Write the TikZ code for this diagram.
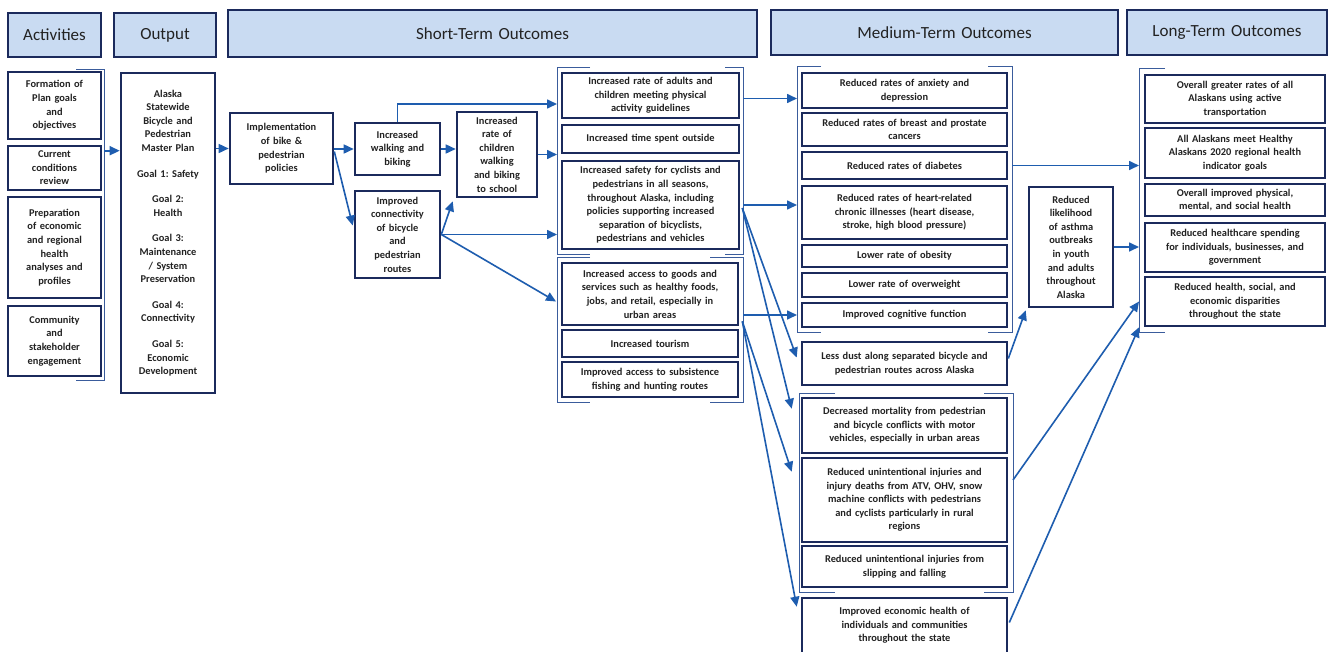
\documentclass[tikz,border=0pt]{standalone}
\usepackage{fontspec}
\setmainfont{Carlito}
\usetikzlibrary{arrows.meta,calc}
\definecolor{navy}{HTML}{1B2A5C}
\definecolor{hdrfill}{HTML}{C9DBF2}
\definecolor{arrblue}{HTML}{1E5DAF}
\definecolor{brkcol}{HTML}{3A5C9C}
\definecolor{txt}{HTML}{222222}
\newcommand\mkbox[7][box]{%
  \pgfmathsetmacro\bw{#5-#3}\pgfmathsetmacro\bh{#6-#4}\pgfmathsetmacro\tw{#5-#3-4}%
  \pgfmathsetmacro\cx{(#3+#5)/2}\pgfmathsetmacro\cy{(#4+#6)/2}%
  \node[#1,minimum width=\bw pt,minimum height=\bh pt,text width=\tw pt] (#2) at (\cx,\cy) {#7};}
\newcommand\mkgrp[5]{%
  \pgfmathsetmacro\bw{#4-#2}\pgfmathsetmacro\bh{#5-#3}%
  \pgfmathsetmacro\cx{(#2+#4)/2}\pgfmathsetmacro\cy{(#3+#5)/2}%
  \node[inner sep=0pt,outer sep=0pt,minimum width=\bw pt,minimum height=\bh pt] (#1) at (\cx,\cy) {};}
\newcommand\brkleft[2]{\draw[brk] ([xshift=#2]#1.north west) -- (#1.north west) -- (#1.south west) -- ([xshift=#2]#1.south west);}
\newcommand\brkright[2]{\draw[brk] ([xshift=-#2]#1.north east) -- (#1.north east) -- (#1.south east) -- ([xshift=-#2]#1.south east);}
\begin{document}
\begin{tikzpicture}[x=1pt,y=-1pt,
  box/.style={draw=navy,line width=2.6pt,fill=white,align=center,inner sep=0pt,text=txt,
    font=\bfseries\frenchspacing\fontsize{10.4}{13.6}\selectfont},
  hdr/.style={draw=navy,line width=2.6pt,fill=hdrfill,align=center,inner sep=0pt,text=txt,
    font=\fontsize{17}{19}\selectfont},
  arr/.style={draw=arrblue,line width=1.6pt,-{Triangle[length=10pt,width=9pt]}},
  brk/.style={draw=brkcol,line width=0.9pt}]
\useasboundingbox (0,0) rectangle (1331,651);
\fill[white] (0,0) rectangle (1331,651);
% headers
\mkbox[hdr]{h1}{8}{13}{101}{57}{Activities}
\mkbox[hdr]{h2}{114}{13}{216}{57}{Output}
\mkbox[hdr]{h3}{228}{10}{757}{57}{Short-Term Outcomes}
\mkbox[hdr]{h4}{771}{10}{1118}{55}{Medium-Term Outcomes}
\mkbox[hdr]{h5}{1127}{10}{1327}{55}{Long-Term Outcomes}
% groups
\mkgrp{actg}{5}{69}{104}{380}
\mkgrp{sg1}{557}{67}{743}{254}
\mkgrp{sg2}{557}{257}{743}{402}
\mkgrp{mg1}{797}{66}{1012}{332}
\mkgrp{mg2}{799}{393}{1013}{592}
\mkgrp{lg}{1139}{68}{1340}{332}
\brkright{actg}{28pt}
\brkleft{sg1}{33pt}\brkright{sg1}{18pt}
\brkleft{sg2}{33pt}\brkright{sg2}{33pt}
\brkleft{mg1}{24pt}\brkright{mg1}{24pt}
\brkleft{mg2}{36pt}\brkright{mg2}{29pt}
\brkleft{lg}{26pt}
% activities
\mkbox{act1}{8}{72}{101}{139}{Formation of\\Plan goals\\and\\objectives}
\mkbox{act2}{8}{146}{101}{190}{Current\\conditions\\review}
\mkbox{act3}{8}{197}{101}{298}{Preparation\\of economic\\and regional\\health\\analyses and\\profiles}
\mkbox{act4}{8}{306}{101}{376}{Community\\and\\stakeholder\\engagement}
% output
\mkbox{out}{121}{73}{215}{393}{Alaska\\Statewide\\Bicycle and\\Pedestrian\\Master Plan\\[12pt]Goal 1: Safety\\[12pt]Goal 2:\\Health\\[12pt]Goal 3:\\Maintenance\\/ System\\Preservation\\[12pt]Goal 4:\\Connectivity\\[12pt]Goal 5:\\Economic\\Development}
% short-term
\mkbox{impl}{230}{113}{333}{184}{Implementation\\of bike \&\\pedestrian\\policies}
\mkbox{walk}{355}{123}{440}{175}{Increased\\walking and\\biking}
\mkbox{conn}{355}{191}{440}{278}{Improved\\connectivity\\of bicycle\\and\\pedestrian\\routes}
\mkbox{kids}{457}{112}{537}{197}{Increased\\rate of\\children\\walking\\and biking\\to school}
\mkbox{adults}{562}{73}{739}{118}{Increased rate of adults and\\children meeting physical\\activity guidelines}
\mkbox{outside}{562}{125}{739}{153}{Increased time spent outside}
\mkbox{safety}{562}{161}{739}{249}{Increased safety for cyclists and\\pedestrians in all seasons,\\throughout Alaska, including\\policies supporting increased\\separation of bicyclists,\\pedestrians and vehicles}
\mkbox{access}{562}{263}{738}{325}{Increased access to goods and\\services such as healthy foods,\\jobs, and retail, especially in\\urban areas}
\mkbox{tourism}{562}{330}{738}{357}{Increased tourism}
\mkbox{subsist}{562}{362}{738}{397}{Improved access to subsistence\\fishing and hunting routes}
% medium-term
\mkbox{anx}{802}{73}{1007}{108}{Reduced rates of anxiety and\\depression}
\mkbox{breast}{802}{113}{1007}{146}{Reduced rates of breast and prostate\\cancers}
\mkbox{diab}{802}{152}{1007}{179}{Reduced rates of diabetes}
\mkbox{heart}{802}{186}{1007}{239}{Reduced rates of heart-related\\chronic illnesses (heart disease,\\stroke, high blood pressure)}
\mkbox{obes}{802}{245}{1007}{267}{Lower rate of obesity}
\mkbox{overw}{802}{273}{1007}{297}{Lower rate of overweight}
\mkbox{cog}{802}{303}{1007}{327}{Improved cognitive function}
\mkbox{dust}{802}{342}{1007}{385}{Less dust along separated bicycle and\\pedestrian routes across Alaska}
\mkbox{mort}{802}{398}{1007}{453}{Decreased mortality from pedestrian\\and bicycle conflicts with motor\\vehicles, especially in urban areas}
\mkbox{atv}{802}{458}{1007}{542}{Reduced unintentional injuries and\\injury deaths from ATV, OHV, snow\\machine conflicts with pedestrians\\and cyclists particularly in rural\\regions}
\mkbox{slip}{802}{546}{1007}{587}{Reduced unintentional injuries from\\slipping and falling}
\mkbox{econ}{802}{598}{1007}{653}{Improved economic health of\\individuals and communities\\throughout the state}
\mkbox{asthma}{1029}{187}{1113}{307}{Reduced\\likelihood\\of asthma\\outbreaks\\in youth\\and adults\\throughout\\Alaska}
% long-term
\mkbox{lt1}{1145}{75}{1325}{123}{Overall greater rates of all\\Alaskans using active\\transportation}
\mkbox{lt2}{1145}{128}{1325}{178}{All Alaskans meet Healthy\\Alaskans 2020 regional health\\indicator goals}
\mkbox{lt3}{1145}{184}{1325}{216}{Overall improved physical,\\mental, and social health}
\mkbox{lt4}{1145}{223}{1325}{272}{Reduced healthcare spending\\for individuals, businesses, and\\government}
\mkbox{lt5}{1145}{277}{1325}{326}{Reduced health, social, and\\economic disparities\\throughout the state}
% connectors
\draw[arr] ($(actg.east |- act2.north)+(0,6)$) -- ($(out.west |- act2.north)+(0,6)$);
\draw[arr] (out.east |- impl.west) -- (impl.west);
\draw[arr] (impl.east |- walk.west) -- (walk.west);
\draw[arr] ($(impl.east)+(0,3)$) -- ($(conn.west)+(-1,-9)$);
\draw[arr] (walk.east) -- (walk.east -| kids.west);
\draw[arr] (conn.east) -- ($(kids.south west)+(-3,3)$);
\draw[arr] (walk.north) |- ($(sg1.north west)+(0,37)$);
\draw[arr] (kids.east) -- (kids.east -| sg1.west);
\draw[arr] (conn.east) -- (conn.east -| sg1.west);
\draw[arr] (conn.east) -- ($(sg2.west)+(-1,-28)$);
\draw[arr] ($(adults.east -| sg1.east)+(0,3)$) -- ($(adults.east -| mg1.west)+(0,3)$);
\draw[arr] (safety.east -| sg1.east) -- (safety.east -| mg1.west);
\draw[arr] (cog.west -| sg2.east) -- (cog.west -| mg1.west);
\draw[arr] ($(safety.east)+(2,3)$) -- ($(dust.west)+(-4,-6)$);
\draw[arr] ($(safety.east)+(2,3)$) -- ($(mort.north west)+(-9,12)$);
\draw[arr] ($(access.south east)+(3,-5)$) -- ($(atv.north west)+(-9,15)$);
\draw[arr] ($(access.south east)+(3,-5)$) -- ($(econ.north west)+(-4,10)$);
\draw[arr] (diab.east -| mg1.east) -- (diab.east -| lg.west);
\draw[arr] ($(dust.east)+(0,-5)$) -- ($(asthma.south west)+(-2,2)$);
\draw[arr] (asthma.east) -- (asthma.east -| lg.west);
\draw[arr] ($(atv.east -| mg2.east)+(0,-20)$) -- (lt5.west -| lg.west);
\draw[arr] ($(econ.east)+(1,-3)$) -- (lt5.south west -| lg.west);
\end{tikzpicture}
\end{document}
